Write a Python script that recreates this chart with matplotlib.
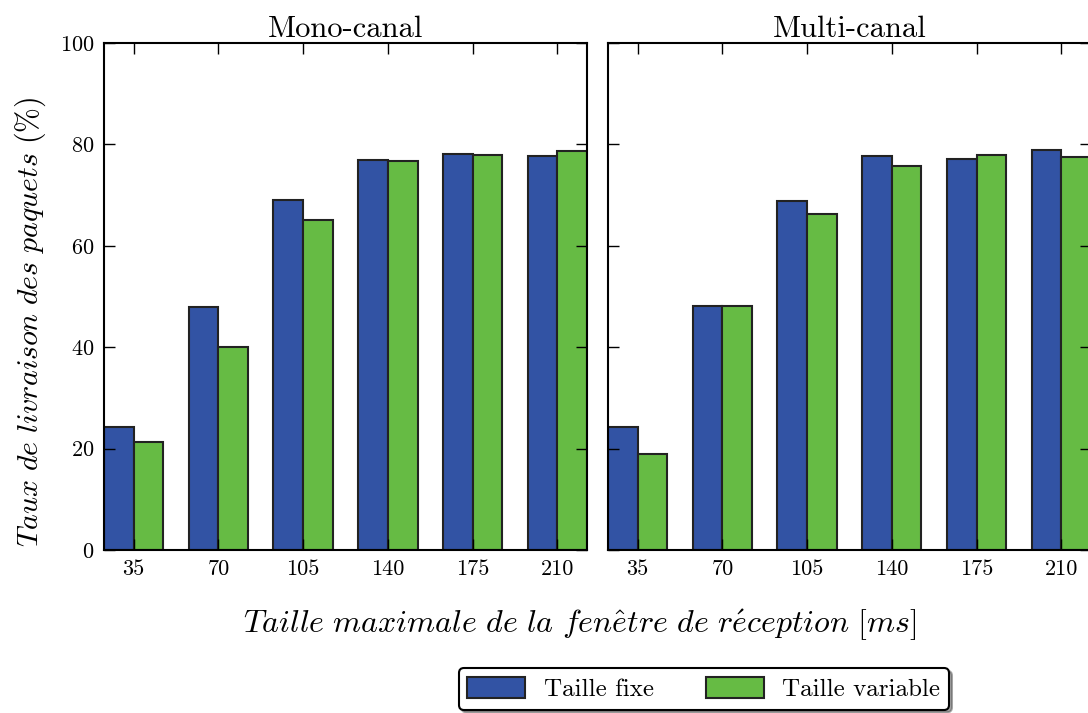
import numpy as np
import matplotlib
matplotlib.use("Agg")
import matplotlib.pyplot as plt

plt.rcParams.update({
    "font.family": "cmr10",
    "mathtext.fontset": "cm",
    "axes.unicode_minus": False,
    "axes.formatter.use_mathtext": True,
    "axes.linewidth": 1.5,
    "xtick.direction": "in",
    "ytick.direction": "in",
    "xtick.top": True,
    "ytick.right": True,
})

fenetres = ["35", "70", "105", "140", "175", "210"]
mono_fixe = [24.3, 47.9, 69.0, 77.0, 78.1, 77.7]
mono_variable = [21.4, 40.0, 65.0, 76.8, 78.0, 78.6]
multi_fixe = [24.3, 48.1, 68.8, 77.7, 77.1, 78.8]
multi_variable = [18.9, 48.1, 66.3, 75.7, 78.0, 77.6]

bleu = "#3253a4"
vert = "#66bb44"
largeur = 0.35

fig = plt.figure(figsize=(10.88, 7.13), dpi=100)
ax1 = fig.add_axes([0.0956, 0.2286, 0.4439, 0.7111])
ax2 = fig.add_axes([0.5588, 0.2286, 0.4439, 0.7111])

x = np.arange(len(fenetres))
for ax, fixe, variable, titre in [(ax1, mono_fixe, mono_variable, "Mono-canal"),
                                  (ax2, multi_fixe, multi_variable, "Multi-canal")]:
    ax.bar(x - largeur, fixe, largeur, align="edge", color=bleu,
           edgecolor="#222222", linewidth=1.5, label="Taille fixe")
    ax.bar(x, variable, largeur, align="edge", color=vert,
           edgecolor="#222222", linewidth=1.5, label="Taille variable")
    ax.set_xlim(-largeur, len(fenetres) - 1 + largeur)
    ax.set_ylim(0, 100)
    ax.set_xticks(x)
    ax.set_xticklabels(fenetres)
    ax.set_yticks([0, 20, 40, 60, 80, 100])
    ax.tick_params(length=8, width=1, labelsize=16, pad=7)
    ax.set_title(titre, fontsize=22, pad=3)

ax2.set_yticklabels([])

# axis titles placed on the figure
fig.text(0.028, 0.549, r"$Taux\ de\ livraison\ des\ paquets\ (\%)$", fontsize=21.5,
         rotation=90, ha="center", va="center")
fig.text(0.533, 0.123, r"$Taille\ maximale\ de\ la\ fen\^etre\ de\ r\'eception\ [ms]$",
         fontsize=23, ha="center", va="center")

handles, labels = ax1.get_legend_handles_labels()
leg = fig.legend(handles, labels, loc="center", bbox_to_anchor=(0.647, 0.034),
                 ncol=2, fontsize=18, frameon=True, shadow=True, fancybox=True,
                 handlelength=2.3, handleheight=0.9, handletextpad=0.75,
                 columnspacing=2.1, borderpad=0.35)
leg.get_frame().set_edgecolor("black")
leg.get_frame().set_linewidth(1.5)

fig.savefig("out.png", dpi=100)
